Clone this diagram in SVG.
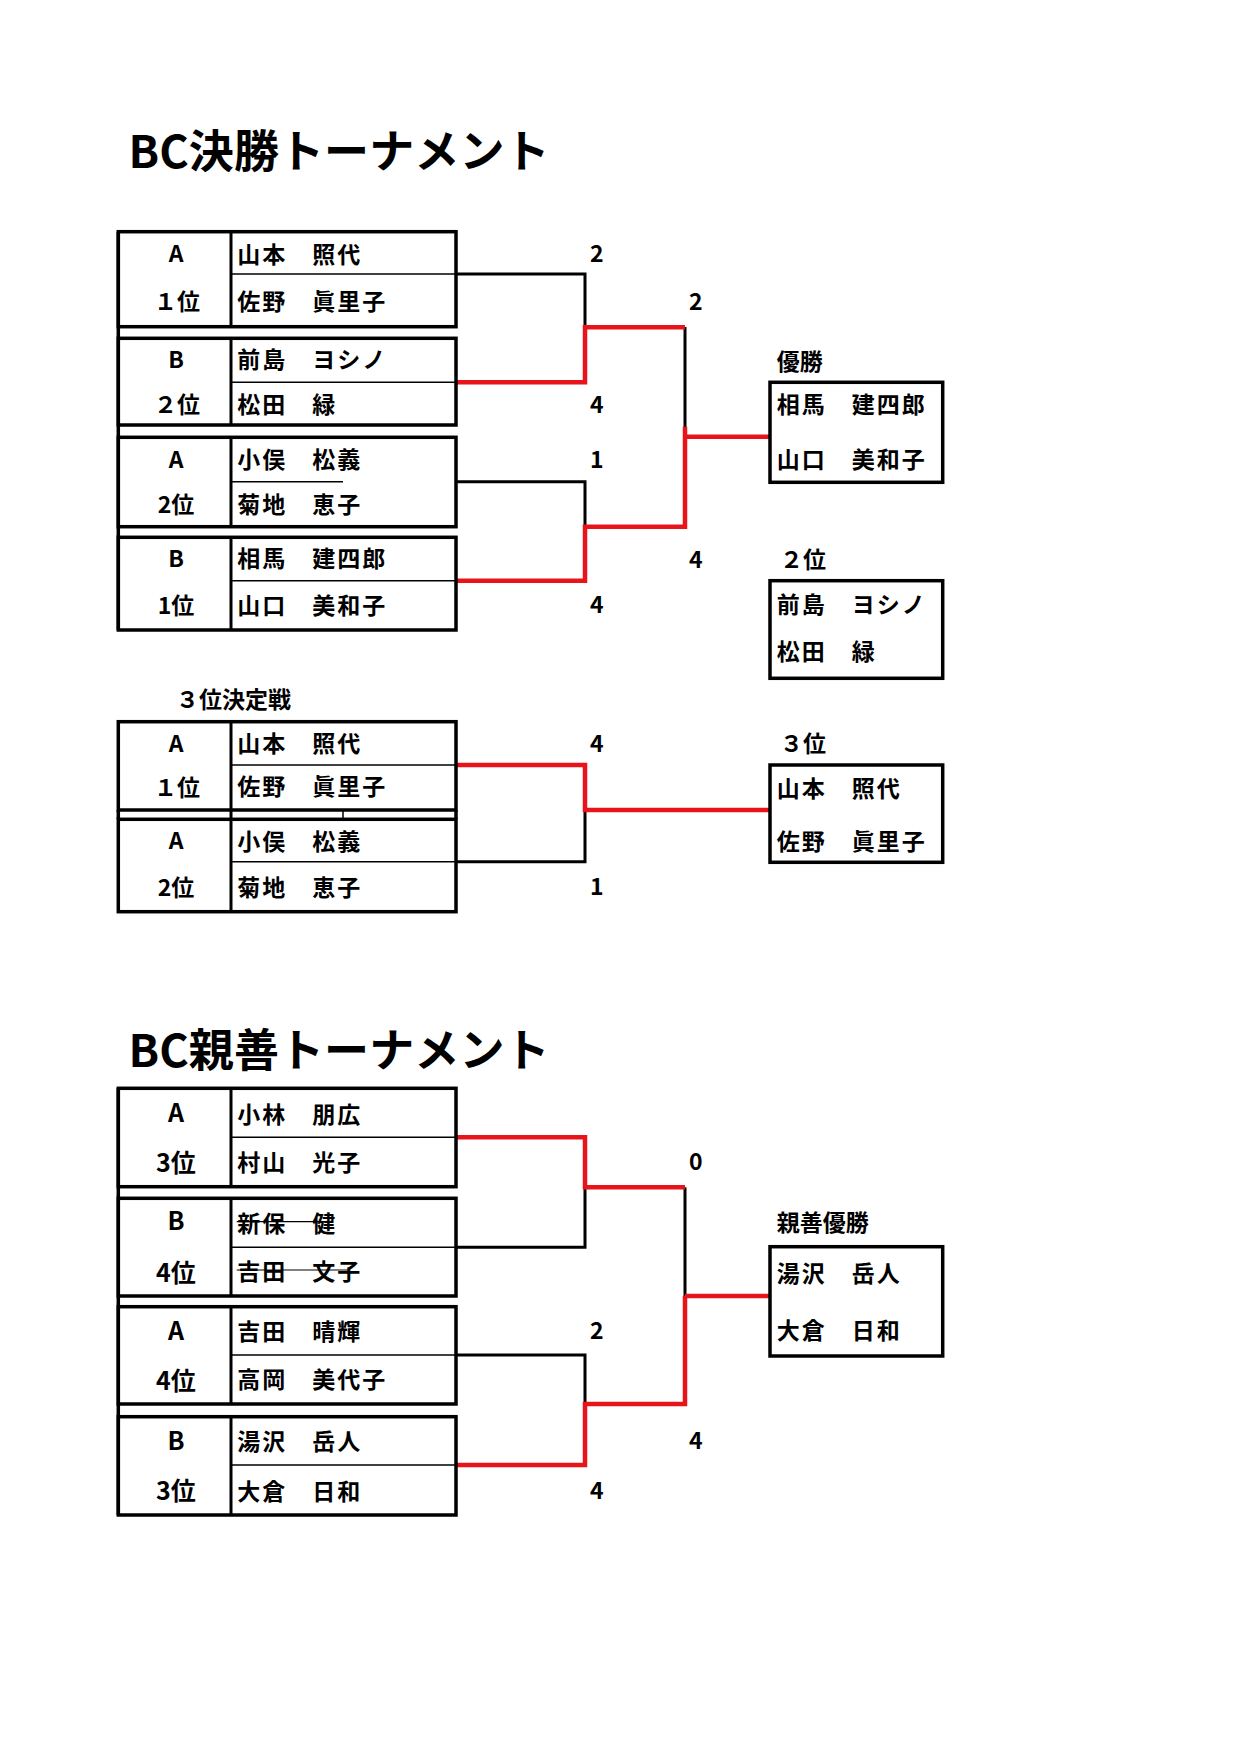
<svg xmlns="http://www.w3.org/2000/svg" width="1241" height="1755" viewBox="0 0 1241 1755">
<style>
text{font-family:"Noto Sans CJK JP","Noto Sans",sans-serif;fill:#000}
.title{font-size:45px;font-weight:bold}
.nm{font-size:23px;letter-spacing:2px;font-weight:bold}
.lb{font-size:23px;font-weight:bold;text-anchor:middle}
.lb2{font-size:25px;font-weight:bold;text-anchor:middle}
.sc{font-size:23px;font-weight:bold;text-anchor:middle}
.hd{font-size:23px;font-weight:bold}
.box{fill:none;stroke:#000;stroke-width:3.5}
.div{stroke:#000;stroke-width:3}
.mid{stroke:#000;stroke-width:1.5}
.strike{stroke:#000;stroke-width:1.2}
.bk{fill:none;stroke:#000;stroke-width:3}
.rd{fill:none;stroke:#e8141a;stroke-width:4.5}
</style>
<rect width="1241" height="1755" fill="#fff"/>

<text class="title" x="128.5" y="168.3" textLength="421" lengthAdjust="spacing">BC決勝トーナメント</text>
<text class="title" x="128.5" y="1066.7" textLength="421" lengthAdjust="spacing">BC親善トーナメント</text>

<!-- connectors -->
<g id="connectors">
  <path class="bk" d="M456,274 H585 V328"/>
  <path class="bk" d="M685,327 V427"/>
  <path class="bk" d="M456,481.7 H585 V527"/>
  <path class="rd" d="M456,382.3 H585 V327.3 H685"/>
  <path class="rd" d="M456,580.7 H585 V526.7 H685 V426.7"/>
  <path class="rd" d="M685,436.7 H770"/>

  <path class="bk" d="M585,810 V861.7 H456"/>
  <path class="rd" d="M456,765 H585 V810 H770"/>

  <path class="bk" d="M585,1187.3 V1247.3 H456"/>
  <path class="bk" d="M685,1187.3 V1296"/>
  <path class="bk" d="M456,1355 H585 V1404"/>
  <path class="rd" d="M456,1137.3 H585 V1187.3 H685"/>
  <path class="rd" d="M456,1465 H585 V1404 H685 V1296"/>
  <path class="rd" d="M685,1296 H770"/>
</g>

<!-- scores -->
<g id="scores">
  <text class="sc" x="596.7" y="261.7">2</text>
  <text class="sc" x="596.7" y="412.7">4</text>
  <text class="sc" x="596.7" y="468">1</text>
  <text class="sc" x="596.7" y="613">4</text>
  <text class="sc" x="695.7" y="310">2</text>
  <text class="sc" x="695.7" y="567.7">4</text>
  <text class="sc" x="596.7" y="751.7">4</text>
  <text class="sc" x="596.7" y="895">1</text>
  <text class="sc" x="695.7" y="1170">0</text>
  <text class="sc" x="596.7" y="1339.3">2</text>
  <text class="sc" x="695.7" y="1449">4</text>
  <text class="sc" x="596.7" y="1499">4</text>
</g>

<!-- BC決勝 entries -->
<line class="box" x1="118.3" y1="231.7" x2="118.3" y2="630"/>
<g id="f1">
  <rect class="box" x="118.3" y="231.7" width="337.7" height="95"/>
  <line class="div" x1="231" y1="231.7" x2="231" y2="326.7"/>
  <line class="mid" x1="231" y1="274" x2="456" y2="274"/>
  <text class="lb" x="176" y="261.7">A</text>
  <text class="lb" x="177" y="310">１位</text>
  <text class="nm" x="237.3" y="263">山本　照代</text>
  <text class="nm" x="237.3" y="310">佐野　眞里子</text>
</g>
<g id="f2">
  <rect class="box" x="118.3" y="338.3" width="337.7" height="86.7"/>
  <line class="div" x1="231" y1="338.3" x2="231" y2="425"/>
  <line class="mid" x1="231" y1="382.3" x2="456" y2="382.3"/>
  <text class="lb" x="176" y="368.3">B</text>
  <text class="lb" x="177" y="413.3">２位</text>
  <text class="nm" x="237.3" y="368.3">前島　ヨシノ</text>
  <text class="nm" x="237.3" y="413.3">松田　緑</text>
</g>
<g id="f3">
  <rect class="box" x="118.3" y="437.3" width="337.7" height="89.4"/>
  <line class="div" x1="231" y1="437.3" x2="231" y2="526.7"/>
  <line class="mid" x1="231" y1="481.7" x2="343" y2="481.7"/>
  <text class="lb" x="176" y="468.3">A</text>
  <text class="lb" x="176" y="513.3">2位</text>
  <text class="nm" x="237.3" y="468.3">小俣　松義</text>
  <text class="nm" x="237.3" y="513.3">菊地　恵子</text>
</g>
<g id="f4">
  <rect class="box" x="118.3" y="537.3" width="337.7" height="92.7"/>
  <line class="div" x1="231" y1="537.3" x2="231" y2="630"/>
  <line class="mid" x1="231" y1="580.7" x2="456" y2="580.7"/>
  <text class="lb" x="176" y="567.3">B</text>
  <text class="lb" x="176" y="614.3">1位</text>
  <text class="nm" x="237.3" y="567.3">相馬　建四郎</text>
  <text class="nm" x="237.3" y="614.3">山口　美和子</text>
</g>

<!-- results -->
<g id="champion">
  <text class="hd" x="776.7" y="370">優勝</text>
  <rect class="box" x="770" y="382.3" width="172.7" height="100"/>
  <text class="nm" x="776.7" y="413.3">相馬　建四郎</text>
  <text class="nm" x="776.7" y="468.3">山口　美和子</text>
</g>
<g id="second">
  <text class="hd" x="780" y="567.7">２位</text>
  <rect class="box" x="770" y="580.7" width="172.7" height="97.6"/>
  <text class="nm" x="776.7" y="613.3">前島　ヨシノ</text>
  <text class="nm" x="776.7" y="660">松田　緑</text>
</g>

<!-- 3位決定戦 -->
<text class="hd" x="176" y="708.3">３位決定戦</text>
<g id="t1">
  <rect class="box" x="118.3" y="721.7" width="337.7" height="88.3"/>
  <line class="div" x1="231" y1="721.7" x2="231" y2="911.7"/>
  <line class="mid" x1="231" y1="765" x2="456" y2="765"/>
  <line class="box" x1="118.3" y1="810" x2="118.3" y2="819.3"/>
  <line class="box" x1="456" y1="810" x2="456" y2="819.3"/>
  <line class="mid" x1="343" y1="810" x2="343" y2="819.3"/>
  <text class="lb" x="176" y="751.7">A</text>
  <text class="lb" x="177" y="796">１位</text>
  <text class="nm" x="237.3" y="751.7">山本　照代</text>
  <text class="nm" x="237.3" y="795">佐野　眞里子</text>
</g>
<g id="t2">
  <rect class="box" x="118.3" y="819.3" width="337.7" height="92.4"/>
  <line class="mid" x1="231" y1="861.7" x2="456" y2="861.7"/>
  <text class="lb" x="176" y="849">A</text>
  <text class="lb" x="176" y="896">2位</text>
  <text class="nm" x="237.3" y="850">小俣　松義</text>
  <text class="nm" x="237.3" y="896">菊地　恵子</text>
</g>
<g id="third">
  <text class="hd" x="780" y="751.7">３位</text>
  <rect class="box" x="770" y="765" width="172.7" height="97.3"/>
  <text class="nm" x="776.7" y="796.7">山本　照代</text>
  <text class="nm" x="776.7" y="850">佐野　眞里子</text>
</g>

<!-- BC親善 entries -->
<line class="box" x1="118.3" y1="1088.3" x2="118.3" y2="1515"/>
<g id="s1">
  <rect class="box" x="118.3" y="1088.3" width="337.7" height="98.4"/>
  <line class="div" x1="231" y1="1088.3" x2="231" y2="1186.7"/>
  <line class="mid" x1="231" y1="1137.3" x2="456" y2="1137.3"/>
  <text class="lb2" x="176" y="1122">A</text>
  <text class="lb2" x="176" y="1172">3位</text>
  <text class="nm" x="237.3" y="1123">小林　朋広</text>
  <text class="nm" x="237.3" y="1170.7">村山　光子</text>
</g>
<g id="s2">
  <rect class="box" x="118.3" y="1198.3" width="337.7" height="97.7"/>
  <line class="div" x1="231" y1="1198.3" x2="231" y2="1296"/>
  <line class="mid" x1="231" y1="1247.3" x2="456" y2="1247.3"/>
  <text class="lb2" x="176" y="1230">B</text>
  <text class="lb2" x="176" y="1282">4位</text>
  <text class="nm" x="237.3" y="1231.7">新保　健</text>
  <line class="strike" x1="236.7" y1="1221.7" x2="326.7" y2="1221.7"/>
  <text class="nm" x="237.3" y="1280">吉田　文子</text>
  <line class="strike" x1="236.7" y1="1270" x2="350" y2="1270"/>
</g>
<g id="s3">
  <rect class="box" x="118.3" y="1306.7" width="337.7" height="97.3"/>
  <line class="div" x1="231" y1="1306.7" x2="231" y2="1404"/>
  <line class="mid" x1="231" y1="1355" x2="456" y2="1355"/>
  <text class="lb2" x="176" y="1339.5">A</text>
  <text class="lb2" x="176" y="1390">4位</text>
  <text class="nm" x="237.3" y="1340">吉田　晴輝</text>
  <text class="nm" x="237.3" y="1388.3">高岡　美代子</text>
</g>
<g id="s4">
  <rect class="box" x="118.3" y="1416.7" width="337.7" height="98.3"/>
  <line class="div" x1="231" y1="1416.7" x2="231" y2="1515"/>
  <line class="mid" x1="231" y1="1465" x2="456" y2="1465"/>
  <text class="lb2" x="176" y="1450">B</text>
  <text class="lb2" x="176" y="1500">3位</text>
  <text class="nm" x="237.3" y="1450">湯沢　岳人</text>
  <text class="nm" x="237.3" y="1500">大倉　日和</text>
</g>
<g id="friendship-champion">
  <text class="hd" x="776.7" y="1231">親善優勝</text>
  <rect class="box" x="770" y="1246.7" width="172.7" height="109.3"/>
  <text class="nm" x="776.7" y="1281.7">湯沢　岳人</text>
  <text class="nm" x="776.7" y="1339.3">大倉　日和</text>
</g>
</svg>
